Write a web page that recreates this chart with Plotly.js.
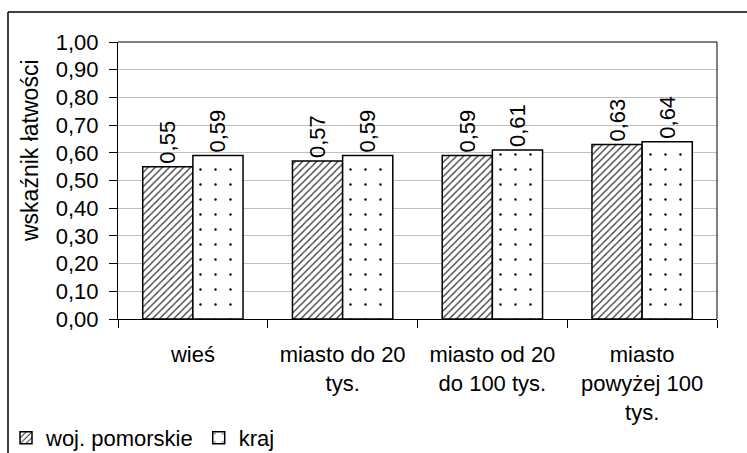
<!DOCTYPE html>
<html>
<head>
<meta charset="utf-8">
<script src="https://cdn.plot.ly/plotly-3.0.1.min.js"></script>
<style>html,body{margin:0;padding:0;background:#fff;}#chart{width:747px;height:453px;}</style>
</head>
<body>
<div id="chart"></div>
<script>
const categories = ["wieś", "miasto do 20<br>tys.", "miasto od 20<br>do 100 tys.", "miasto<br>powyżej 100<br>tys."];
const seriesNames = ["woj. pomorskie", "kraj"];
const pomorskie = [0.55, 0.57, 0.59, 0.63];
const kraj = [0.59, 0.59, 0.61, 0.64];
const yTicks = [0, 0.1, 0.2, 0.3, 0.4, 0.5, 0.6, 0.7, 0.8, 0.9, 1.0];

const FONT = "Liberation Sans, Arial, sans-serif";
const FS = 22;

const traces = [
  {
    type: "bar", name: seriesNames[0], x: categories, y: pomorskie,
    texttemplate: "%{y:.2f}", textposition: "outside", textangle: -90,
    textfont: {family: FONT, size: FS, color: "#000"}, cliponaxis: false,
    marker: {color: "#ffffff", line: {color: "#000", width: 1.5},
      pattern: {shape: "/", fgcolor: "#333", bgcolor: "#ffffff", size: 5, solidity: 0.25}}
  },
  {
    type: "bar", name: seriesNames[1], x: categories, y: kraj,
    texttemplate: "%{y:.2f}", textposition: "outside", textangle: -90,
    textfont: {family: FONT, size: FS, color: "#000"}, cliponaxis: false,
    marker: {color: "#ffffff", line: {color: "#000", width: 1.5},
      pattern: {shape: ".", fgcolor: "#000", bgcolor: "#ffffff", size: 15, solidity: 0.02}}
  }
];

const L = 118, R = 717, T = 42, B = 319;
const W = R - L, H = B - T;
const px = v => (v - L) / W;
const py = v => (B - v) / H;

const layout = {
  width: 747, height: 453,
  margin: {l: L, r: 747 - R, t: T, b: 453 - B, autoexpand: false},
  paper_bgcolor: "#fff", plot_bgcolor: "#fff",
  separators: ",.",
  font: {family: FONT, size: FS, color: "#000"},
  barmode: "group", bargap: 0.33, bargroupgap: 0,
  showlegend: true,
  legend: {orientation: "h", xref: "container", yref: "container", x: 6 / 747, xanchor: "left",
    y: 1 - 417 / 453, yanchor: "top",
    font: {family: FONT, size: FS, color: "#000"}, bgcolor: "rgba(0,0,0,0)", traceorder: "normal"},
  xaxis: {
    type: "category", tickson: "boundaries", ticks: "outside", ticklen: 8, tickcolor: "#000",
    showline: true, linecolor: "#000", linewidth: 1, showgrid: false, ticklabelstandoff: 16,
    tickfont: {family: FONT, size: FS, color: "#000"}, automargin: false
  },
  yaxis: {
    range: [0, 1], tickvals: yTicks, tickformat: ".2f", ticks: "outside", ticklen: 8, tickcolor: "#000",
    showline: true, linecolor: "#000", linewidth: 1, showgrid: true, gridcolor: "#c0c0c0", gridwidth: 1,
    zeroline: false, tickfont: {family: FONT, size: FS, color: "#000"}, automargin: false, ticklabelstandoff: 6
  },
  annotations: [
    {text: "wskaźnik łatwości", xref: "paper", yref: "paper", x: px(30), y: py(151), textangle: -90,
     showarrow: false, xanchor: "center", yanchor: "middle", font: {family: FONT, size: 23, color: "#000"}}
  ],
  shapes: [
    {type: "line", xref: "paper", yref: "paper", x0: 0, x1: 1, y0: 1, y1: 1, line: {color: "#808080", width: 2}},
    {type: "line", xref: "paper", yref: "paper", x0: 1, x1: 1, y0: 0, y1: 1, line: {color: "#000", width: 1}},
    {type: "line", xref: "paper", yref: "paper", x0: px(8), x1: px(760), y0: py(12), y1: py(12), line: {color: "#000", width: 1.5}},
    {type: "line", xref: "paper", yref: "paper", x0: px(8), x1: px(8), y0: py(12), y1: py(470), line: {color: "#000", width: 1.5}}
  ]
};

Plotly.newPlot("chart", traces, layout, {staticPlot: true, displayModeBar: false});
</script>
</body>
</html>
